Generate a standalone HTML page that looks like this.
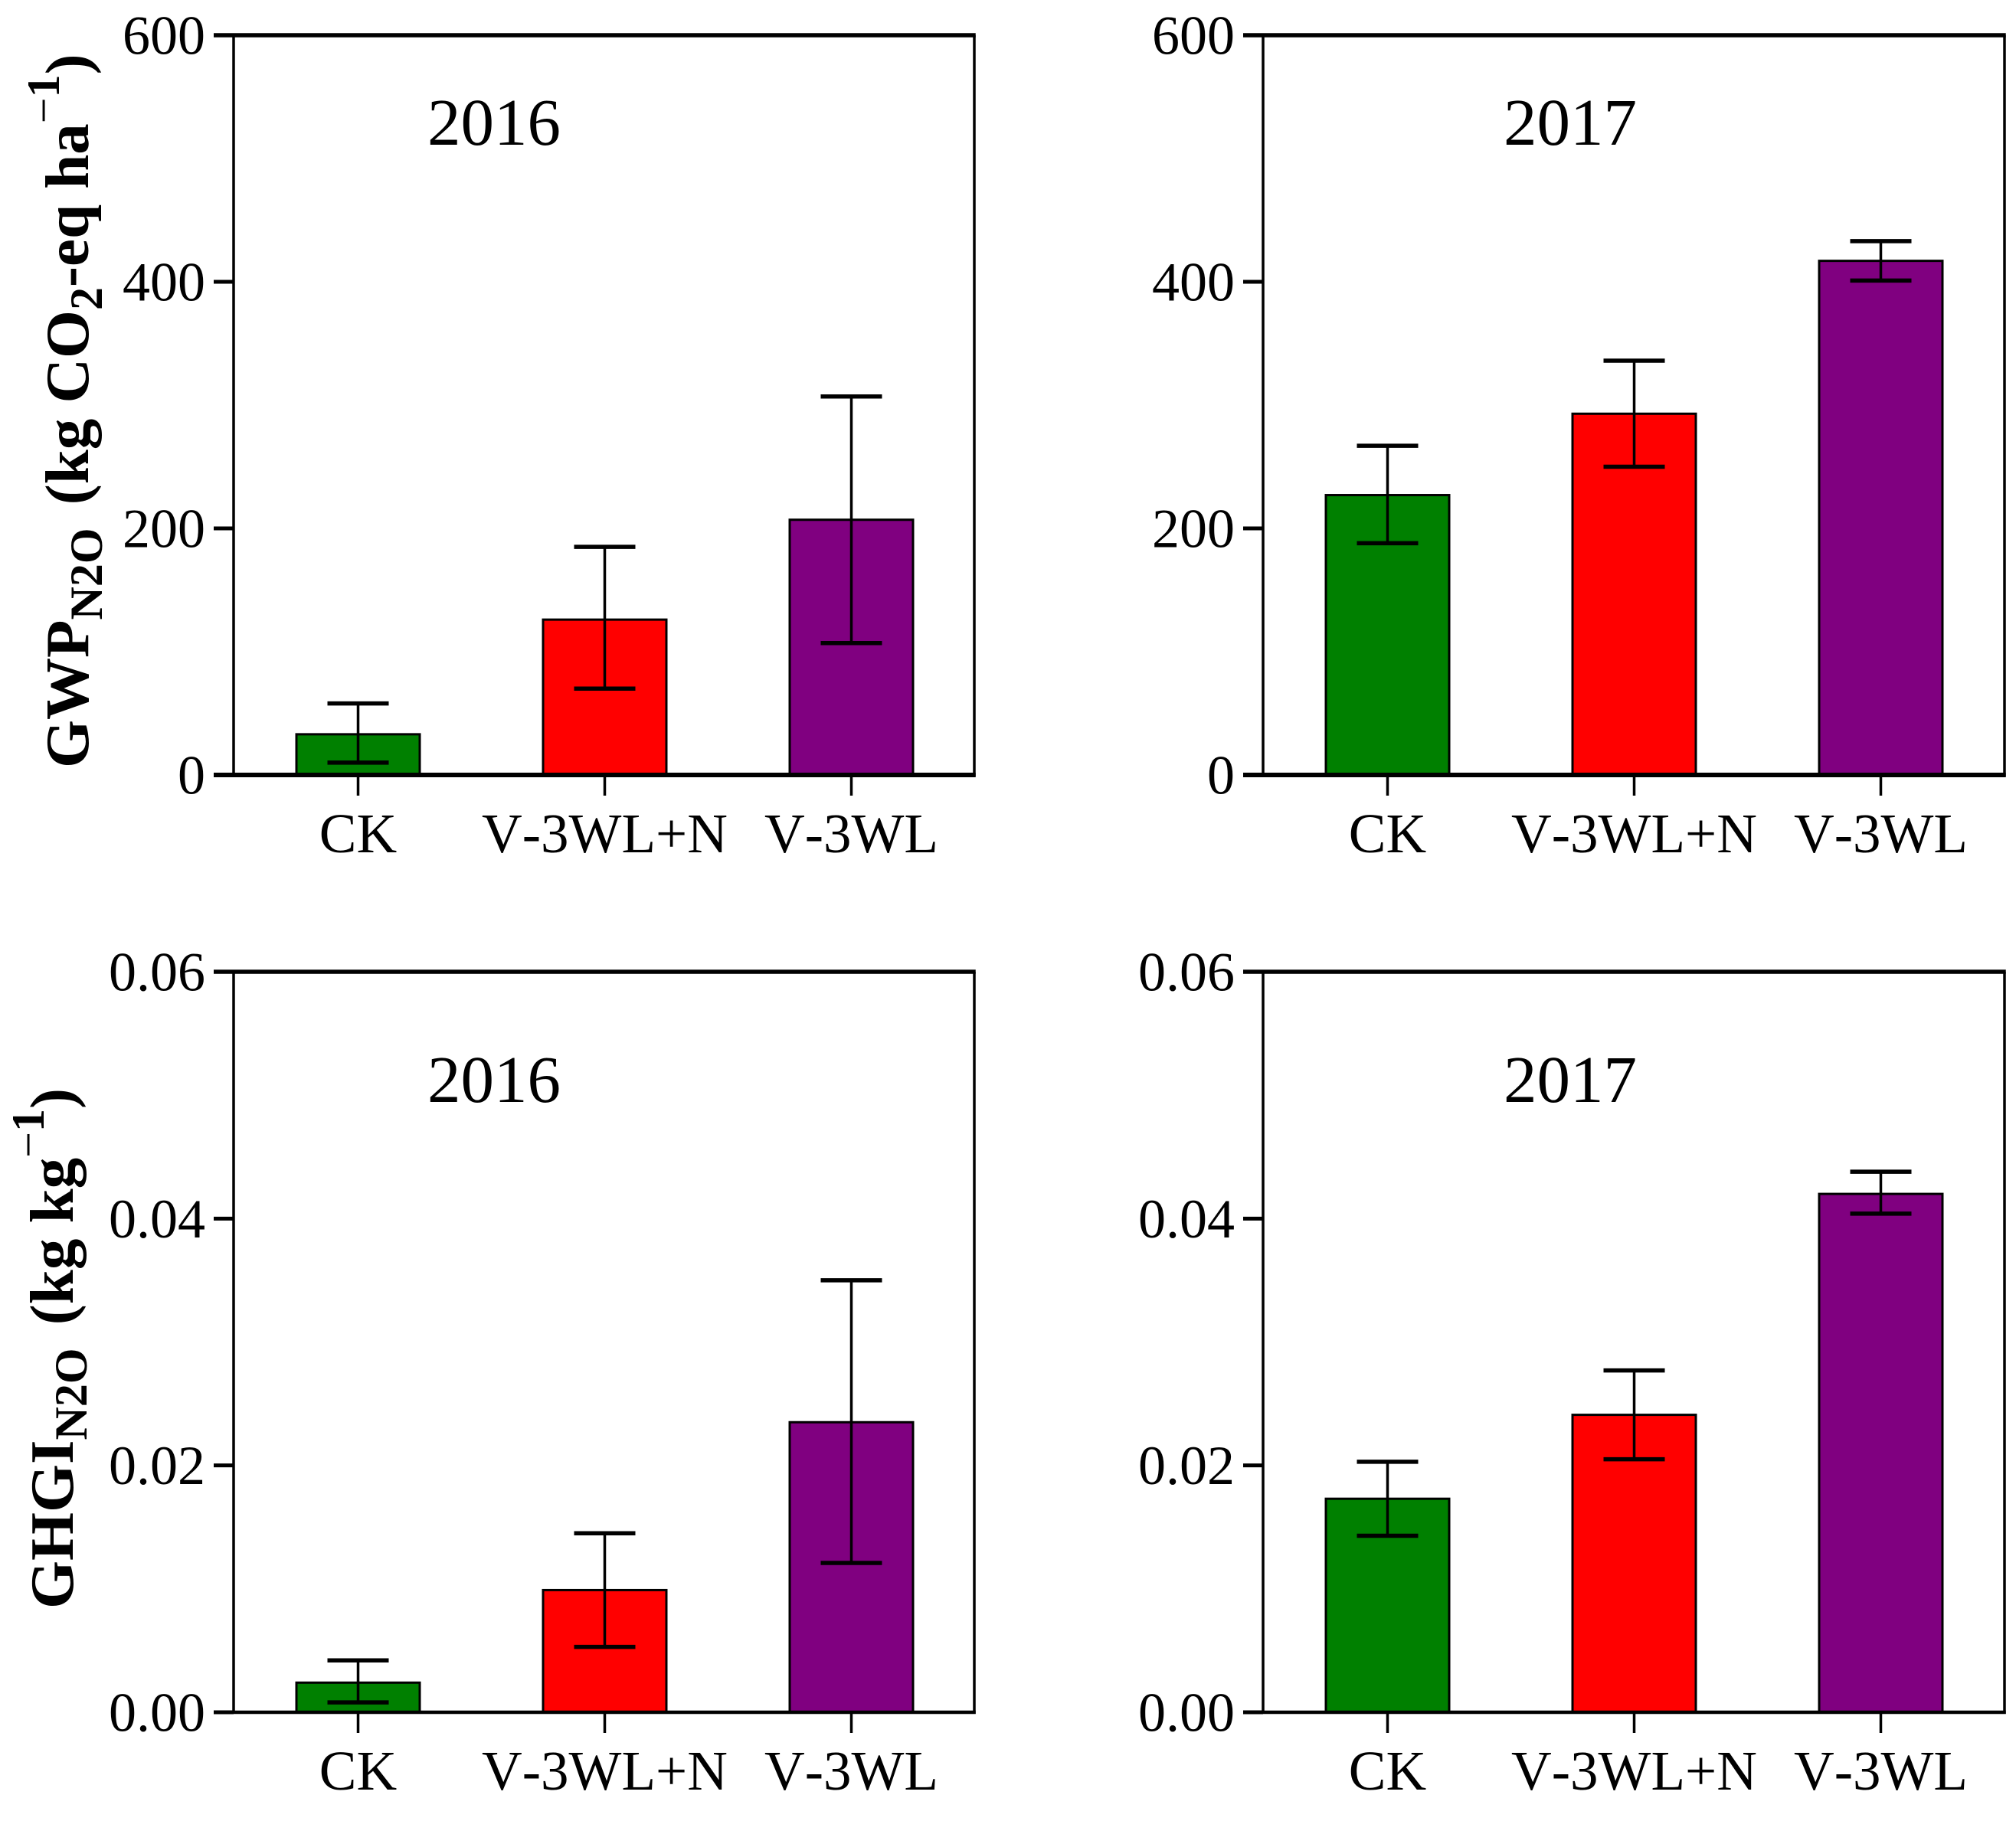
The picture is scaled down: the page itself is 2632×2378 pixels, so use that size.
<!DOCTYPE html>
<html lang="en">
<head>
<meta charset="utf-8">
<title>GWP and GHGI of N2O, 2016 and 2017</title>
<style>
html,body{margin:0;padding:0;background:#fff;}
svg{display:block;}
text{font-family:"Liberation Serif","Times New Roman",serif;fill:#000;font-kerning:none;}
.tick-text{font-size:72px;}
.category-text{font-size:73px;}
.panel-text{font-size:87px;}
.axis-title{font-size:81px;font-weight:bold;}
.small{font-size:60px;}
</style>
</head>
<body>
<svg id="chart" xmlns="http://www.w3.org/2000/svg" width="2632" height="2378" viewBox="0 0 2632 2378">
  <rect x="0" y="0" width="2632" height="2378" fill="#fff"/>
  <text class="axis-title" transform="translate(115 1003) rotate(-90)">GWP<tspan class="small" dy="18">N2O</tspan><tspan dy="-18" dx="10"> (kg CO</tspan><tspan class="small" dy="18">2</tspan><tspan dy="-18">-eq ha</tspan><tspan class="small" dy="-38" font-weight="normal">−</tspan><tspan class="small" dy="0">1</tspan><tspan dy="38">)</tspan></text>
  <text class="axis-title" transform="translate(95 2101) rotate(-90)">GHGI<tspan class="small" dy="18">N2O</tspan><tspan dy="-18" dx="10"> (kg kg</tspan><tspan class="small" dy="-38" font-weight="normal">−</tspan><tspan class="small" dy="0">1</tspan><tspan dy="38">)</tspan></text>
</svg>
<script>
var categories = ['CK', 'V-3WL+N', 'V-3WL'];
var barColors = ['#008000', '#ff0000', '#800080'];

var gwpTicks = ['0', '200', '400', '600'];
var ghgiTicks = ['0.00', '0.02', '0.04', '0.06'];

var gwp2016Means = [33, 126, 207];
var gwp2016Upper = [58, 185, 307];
var gwp2016Lower = [10, 70, 107];

var gwp2017Means = [227, 293, 417];
var gwp2017Upper = [267, 336, 433];
var gwp2017Lower = [188, 250, 401];

var ghgi2016Means = [0.0024, 0.0099, 0.0235];
var ghgi2016Upper = [0.0042, 0.0145, 0.0350];
var ghgi2016Lower = [0.0008, 0.0053, 0.0121];

var ghgi2017Means = [0.0173, 0.0241, 0.0420];
var ghgi2017Upper = [0.0203, 0.0277, 0.0438];
var ghgi2017Lower = [0.0143, 0.0205, 0.0404];

var svg = document.getElementById('chart');
var NS = 'http://www.w3.org/2000/svg';

function make(tag, props, parent) {
  var el = document.createElementNS(NS, tag);
  for (var k in props) { el.setAttribute(k, props[k]); }
  parent.appendChild(el);
  return el;
}

function line(x1, y1, x2, y2, w, parent) {
  return make('line', {x1: x1, y1: y1, x2: x2, y2: y2, stroke: '#000', 'stroke-width': w}, parent);
}

function drawPanel(opts) {
  var left = opts.left, top = opts.top, bottom = opts.bottom, frameLeft = opts.frameLeft;
  var frameRight = opts.frameRight;
  var width = 966, band = width / categories.length, barW = 161, capW = 80;
  var tickMax = Number(opts.ticks[opts.ticks.length - 1]);
  var xScale = function (i) { return left + band * (i + 0.5); };
  var yScale = function (v) { return bottom - (v / tickMax) * (bottom - top); };

  var g = make('g', {}, svg);
  
  

  categories.forEach(function (cat, i) {
    var x = xScale(i);
    var bar = make('rect', {
      x: x - barW / 2, y: yScale(opts.means[i]),
      width: barW, height: bottom - yScale(opts.means[i]),
      fill: barColors[i], stroke: '#000', 'stroke-width': 3
    }, g);
    
    

    var stem = line(x, yScale(opts.upper[i]), x, yScale(opts.lower[i]), 3.5, g);
    
    

    var capHi = line(x - capW / 2, yScale(opts.upper[i]), x + capW / 2, yScale(opts.upper[i]), 5.5, g);
    
    

    var capLo = line(x - capW / 2, yScale(opts.lower[i]), x + capW / 2, yScale(opts.lower[i]), 5.5, g);
    
    

    var xt = line(x, bottom, x, bottom + 27, 3.5, g);
    
    

    var xl = make('text', {x: x, y: bottom + 101, 'text-anchor': 'middle', 'class': 'category-text'}, g);
    xl.textContent = cat;
    
    
  });

  var leftAxis = line(frameLeft, top, frameLeft, bottom, 3.5, g);
  
  

  var rightAxis = line(frameRight, top, frameRight, bottom + 2, 3.5, g);
  
  

  var topAxis = line(frameLeft - 26, top, frameRight + 1.75, top, 5.5, g);
  
  

  var baseAxis = line(frameLeft - 26, bottom, frameRight + 1.75, bottom, opts.baseWidth, g);
  
  

  opts.ticks.forEach(function (label) {
    var y = yScale(Number(label));
    var t = line(frameLeft - 26, y, frameLeft, y, 5, g);
    
    

    var tl = make('text', {x: frameLeft - 37, y: y + 24.5, 'text-anchor': 'end', 'class': 'tick-text'}, g);
    tl.textContent = label;
    
    
  });

  var title = make('text', {x: opts.titleX, y: opts.titleY, 'text-anchor': 'middle', 'class': 'panel-text'}, g);
  title.textContent = opts.title;
  
  
}

drawPanel({name: 'panel-gwp-2016', left: 306.5, frameLeft: 305, frameRight: 1272, top: 46, bottom: 1012, baseWidth: 6, ticks: gwpTicks,
  means: gwp2016Means, upper: gwp2016Upper, lower: gwp2016Lower,
  title: '2016', titleX: 645, titleY: 189});
drawPanel({name: 'panel-gwp-2017', left: 1650.5, frameLeft: 1649, frameRight: 2617, top: 46, bottom: 1012, baseWidth: 6, ticks: gwpTicks,
  means: gwp2017Means, upper: gwp2017Upper, lower: gwp2017Lower,
  title: '2017', titleX: 2050, titleY: 189});
drawPanel({name: 'panel-ghgi-2016', left: 306.5, frameLeft: 305, frameRight: 1272, top: 1269, bottom: 2236, baseWidth: 4.5, ticks: ghgiTicks,
  means: ghgi2016Means, upper: ghgi2016Upper, lower: ghgi2016Lower,
  title: '2016', titleX: 645, titleY: 1439});
drawPanel({name: 'panel-ghgi-2017', left: 1650.5, frameLeft: 1649, frameRight: 2617, top: 1269, bottom: 2236, baseWidth: 4.5, ticks: ghgiTicks,
  means: ghgi2017Means, upper: ghgi2017Upper, lower: ghgi2017Lower,
  title: '2017', titleX: 2050, titleY: 1439});
</script>
</body>
</html>
